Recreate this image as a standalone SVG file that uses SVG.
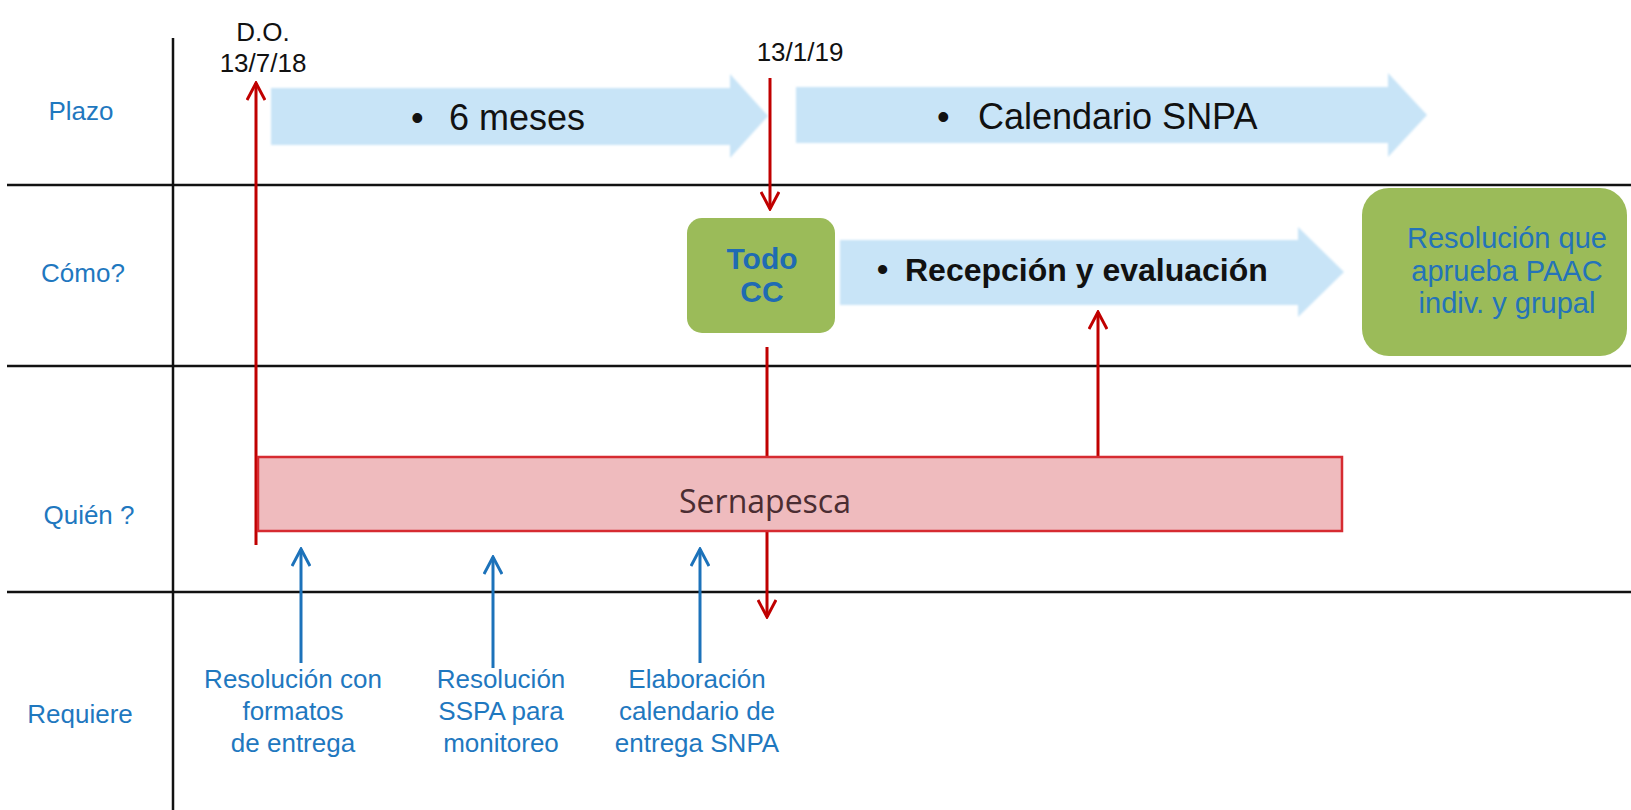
<svg xmlns="http://www.w3.org/2000/svg" width="1631" height="810" viewBox="0 0 1631 810">
<style>
.lbl{font-family:"Liberation Sans",Arial,sans-serif;font-size:26px;fill:#1F78BF;text-anchor:middle}
.date{font-family:"Liberation Sans",Arial,sans-serif;font-size:26px;fill:#111;text-anchor:middle}
.big{font-family:"Liberation Sans",Arial,sans-serif;font-size:36px;fill:#111}
.bold{font-family:"Liberation Sans",Arial,sans-serif;font-size:32px;font-weight:bold;fill:#111}
.grid{stroke:#111;stroke-width:2.5;fill:none}
.barrow{fill:#C8E4F7;filter:url(#soft)}
.green{fill:#9BBB59}
.red{stroke:#C00000;stroke-width:3;fill:none;marker-end:url(#mr)}
.blue{stroke:#1C72BA;stroke-width:3;fill:none;marker-end:url(#mb)}
.todo{font-family:"Liberation Sans",Arial,sans-serif;font-size:30px;font-weight:bold;fill:#1F6BB3;text-anchor:middle}
.paac{font-family:"Liberation Sans",Arial,sans-serif;font-size:29px;fill:#2473B9;text-anchor:middle}
</style>
<defs>
<filter id="soft" x="-5%" y="-10%" width="110%" height="120%"><feGaussianBlur stdDeviation="1.2"/></filter>
<marker id="mr" viewBox="0 0 20 20" refX="18" refY="10" markerWidth="20" markerHeight="20" orient="auto" markerUnits="userSpaceOnUse"><path d="M1,1 L18,10 L1,19" fill="none" stroke="#C00000" stroke-width="3"/></marker>
<marker id="mb" viewBox="0 0 20 20" refX="18" refY="10" markerWidth="20" markerHeight="20" orient="auto" markerUnits="userSpaceOnUse"><path d="M1,1 L18,10 L1,19" fill="none" stroke="#1C72BA" stroke-width="3"/></marker>
</defs>
<rect width="1631" height="810" fill="#fff"/>
<g id="grid">
<line class="grid" x1="173" y1="38" x2="173" y2="810"/>
<line class="grid" x1="7" y1="185" x2="1631" y2="185"/>
<line class="grid" x1="7" y1="366" x2="1631" y2="366"/>
<line class="grid" x1="7" y1="592" x2="1631" y2="592"/>
</g>
<g id="row-labels">
<text class="lbl" x="81" y="120">Plazo</text>
<text class="lbl" x="83" y="282">Cómo?</text>
<text class="lbl" x="89" y="524">Quién ?</text>
<text class="lbl" x="80" y="723">Requiere</text>
</g>
<g id="dates">
<text class="date" x="263" y="41" font-size="25">D.O.</text>
<text class="date" x="263" y="72">13/7/18</text>
<text class="date" x="800" y="61">13/1/19</text>
</g>
<g id="arrow-6meses">
<path class="barrow" d="M271,88 L730,88 L730,74 L768,116 L730,158 L730,145 L271,145 Z"/>
<text class="big" x="411" y="130" font-size="30">•</text>
<text class="big" x="449" y="130">6 meses</text>
</g>
<g id="arrow-calendario">
<path class="barrow" d="M796,87 L1388,87 L1388,73 L1427,115 L1388,157 L1388,143 L796,143 Z"/>
<text class="big" x="937" y="129" font-size="30">•</text>
<text class="big" x="978" y="129">Calendario SNPA</text>
</g>
<g id="arrow-recepcion">
<path class="barrow" d="M840,240 L1298,240 L1298,227 L1344,272 L1298,317 L1298,305 L840,305 Z"/>
<text class="bold" x="877" y="280" font-size="24">•</text>
<text class="bold" x="905" y="281">Recepción y evaluación</text>
</g>
<g id="connectors">
<line class="red" x1="256" y1="545" x2="256" y2="83"/>
<line class="red" x1="770" y1="78" x2="770" y2="209"/>
<line class="red" x1="767" y1="347" x2="767" y2="617"/>
<line class="red" x1="1098" y1="457" x2="1098" y2="312"/>
<line class="blue" x1="301" y1="663" x2="301" y2="549"/>
<line class="blue" x1="493" y1="668" x2="493" y2="557"/>
<line class="blue" x1="700" y1="663" x2="700" y2="549"/>
</g>
<g id="todo-cc">
<rect class="green" x="687" y="218" width="148" height="115" rx="15"/>
<text class="todo" x="762" y="269">Todo</text>
<text class="todo" x="762" y="302">CC</text>
</g>
<g id="resolucion-paac">
<rect class="green" x="1362" y="188" width="265" height="168" rx="27"/>
<text class="paac" x="1507" y="248">Resolución que</text>
<text class="paac" x="1507" y="281">aprueba PAAC</text>
<text class="paac" x="1507" y="313">indiv. y grupal</text>
</g>
<g id="sernapesca">
<rect x="258" y="457" width="1084" height="74" fill="#EFBBBE" stroke="#D62B31" stroke-width="2.5"/>
<text x="765" y="513" font-family="Open Sans, sans-serif" font-size="32" fill="#4B2D32" text-anchor="middle">Sernapesca</text>
</g>
<g id="req-formatos">
<text class="lbl" x="293" y="688">Resolución con</text>
<text class="lbl" x="293" y="720">formatos</text>
<text class="lbl" x="293" y="752">de entrega</text>
</g>
<g id="req-sspa">
<text class="lbl" x="501" y="688">Resolución</text>
<text class="lbl" x="501" y="720">SSPA para</text>
<text class="lbl" x="501" y="752">monitoreo</text>
</g>
<g id="req-calendario">
<text class="lbl" x="697" y="688">Elaboración</text>
<text class="lbl" x="697" y="720">calendario de</text>
<text class="lbl" x="697" y="752">entrega SNPA</text>
</g>
</svg>
